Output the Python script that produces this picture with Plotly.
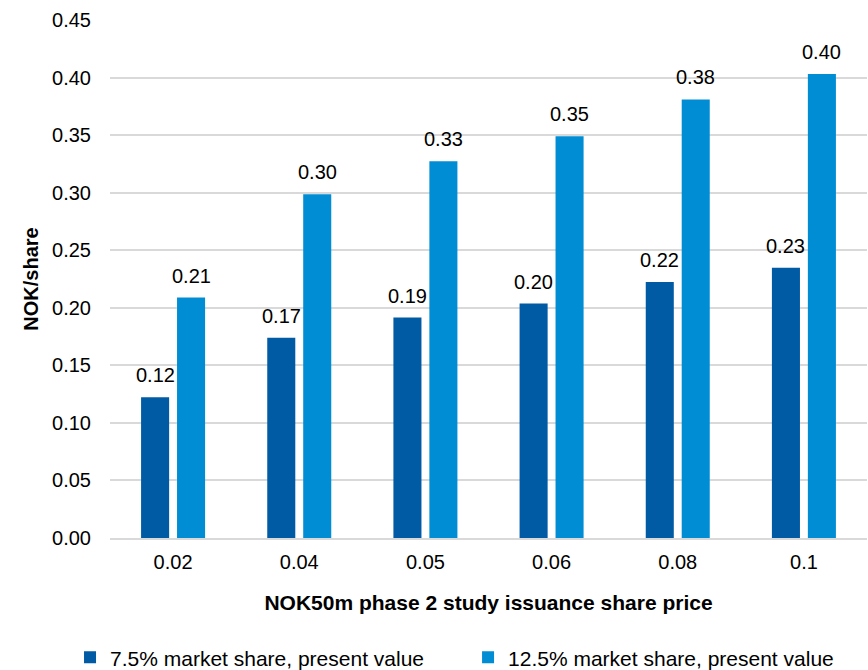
import plotly.graph_objects as go

# Issuance share price scenarios (NOK) and present value per share (NOK/share)
categories = ["0.02", "0.04", "0.05", "0.06", "0.08", "0.1"]
pv_share_7_5 = [0.1222, 0.174, 0.1915, 0.2037, 0.2224, 0.2348]
pv_share_12_5 = [0.2089, 0.2987, 0.3274, 0.349, 0.381, 0.403]
series_names = ["7.5% market share, present value", "12.5% market share, present value"]
y_ticks = [0.00, 0.05, 0.10, 0.15, 0.20, 0.25, 0.30, 0.35, 0.40, 0.45]

DARK = "#005AA4"
LIGHT = "#008DD4"
FONT = "Liberation Sans, Arial, sans-serif"
GRID = "#D9D9D9"

fig = go.Figure()
for name, vals, col, lg in [(series_names[0], pv_share_7_5, DARK, "legend"),
                            (series_names[1], pv_share_12_5, LIGHT, "legend2")]:
    fig.add_trace(go.Bar(x=categories, y=vals, name=name, marker_color=col,
                         marker_line_width=0, legend=lg))

# value labels above each bar (x given as category index, shifted to each bar)
offsets = [-18, 18]
for vals, dx in zip([pv_share_7_5, pv_share_12_5], offsets):
    for i, v in enumerate(vals):
        fig.add_annotation(x=i, y=v, xref="x", yref="y", text=f"{v:.2f}",
                           showarrow=False, xshift=dx, yanchor="bottom", yshift=9,
                           font=dict(family=FONT, size=20, color="#000000"))

legend_style = dict(orientation="h", y=-0.231, yanchor="middle",
                    xanchor="left", bgcolor="rgba(0,0,0,0)",
                    font=dict(family=FONT, size=21, color="#000000"))

fig.update_layout(
    width=868, height=670,
    margin=dict(l=110, r=1, t=20, b=132, autoexpand=False),
    paper_bgcolor="white", plot_bgcolor="white",
    barmode="group", bargap=0.43, bargroupgap=0.22,
    font=dict(family=FONT, size=20, color="#000000"),
    showlegend=True,
    legend=dict(x=-0.0528, **legend_style),
    legend2=dict(x=0.473, **legend_style),
    xaxis=dict(type="category", showgrid=False, showline=True,
               linecolor=GRID, linewidth=1.5, ticks="",
               tickfont=dict(family=FONT, size=20),
               ticklabelstandoff=5,
               title=dict(text="<b>NOK50m phase 2 study issuance share price</b>",
                          font=dict(family=FONT, size=21), standoff=24)),
    yaxis=dict(range=[0, 0.45], tickvals=y_ticks, tickformat=".2f",
               showgrid=True, gridcolor=GRID, gridwidth=1.5,
               zeroline=False, showline=False, ticks="",
               ticklabelstandoff=18,
               tickfont=dict(family=FONT, size=20),
               title=dict(text="<b>NOK/share</b>",
                          font=dict(family=FONT, size=20), standoff=8)),
)

fig.write_html("out.html")
